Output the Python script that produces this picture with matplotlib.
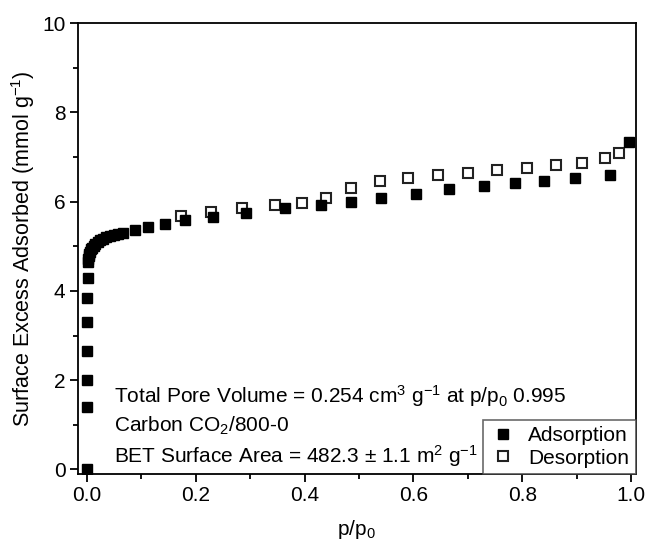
import matplotlib
matplotlib.use('Agg')
import matplotlib.pyplot as plt
from matplotlib.ticker import MultipleLocator

plt.rcParams['font.family'] = ['Liberation Sans', 'DejaVu Sans']
plt.rcParams['mathtext.fontset'] = 'custom'
plt.rcParams['mathtext.rm'] = 'Liberation Sans'
plt.rcParams['mathtext.it'] = 'Liberation Sans:italic'
plt.rcParams['mathtext.bf'] = 'Liberation Sans:bold'

# Isoterma de adsorcion (lectura aproximada de la imagen)
ads_p = [0.0, 0.0005, 0.0008, 0.001, 0.0012, 0.0014, 0.0016,
         0.002, 0.003, 0.004, 0.005, 0.006, 0.008, 0.010, 0.013, 0.016,
         0.020, 0.025, 0.030, 0.036, 0.043, 0.050, 0.058, 0.066,
         0.088, 0.112, 0.143, 0.181, 0.231, 0.293, 0.364, 0.430,
         0.485, 0.540, 0.604, 0.665, 0.729, 0.786, 0.840, 0.897,
         0.960, 0.996]
ads_q = [0.0, 1.4, 2.0, 2.65, 3.3, 3.85, 4.3,
         4.65, 4.72, 4.78, 4.83, 4.88, 4.93, 4.97, 5.01, 5.05,
         5.09, 5.13, 5.17, 5.20, 5.23, 5.26, 5.28, 5.30,
         5.37, 5.43, 5.51, 5.58, 5.65, 5.74, 5.85, 5.92,
         5.99, 6.08, 6.17, 6.28, 6.35, 6.41, 6.46, 6.52,
         6.59, 7.33]

# Isoterma de desorcion
des_p = [0.174, 0.229, 0.286, 0.346, 0.396, 0.440, 0.485, 0.538,
         0.590, 0.645, 0.700, 0.753, 0.808, 0.861, 0.909, 0.952, 0.978]
des_q = [5.67, 5.76, 5.85, 5.92, 5.98, 6.08, 6.30, 6.46,
         6.52, 6.59, 6.64, 6.70, 6.75, 6.81, 6.86, 6.97, 7.08]

fig = plt.figure(figsize=(6.5, 5.51), dpi=100)
ax = fig.add_axes([0.12, 0.14, 0.858, 0.818])

ax.plot(ads_p, ads_q, 's', color='black', markersize=7, label='Adsorption', zorder=3)
ax.plot(des_p, des_q, 's', markerfacecolor='white', markeredgecolor='#222222',
        markeredgewidth=1.5, markersize=6.5, label='Desorption', zorder=2)

ax.set_xlim(-0.016, 1.008)
ax.set_ylim(-0.1, 10)
ax.xaxis.set_major_locator(MultipleLocator(0.2))
ax.xaxis.set_minor_locator(MultipleLocator(0.1))
ax.yaxis.set_major_locator(MultipleLocator(2))
ax.yaxis.set_minor_locator(MultipleLocator(1))
ax.xaxis.set_major_formatter(matplotlib.ticker.FormatStrFormatter('%.1f'))
ax.tick_params(which='major', direction='out', length=6, width=1.3, labelsize=15, pad=3)
ax.tick_params(which='minor', direction='out', length=3.5, width=1.3)
for s in ax.spines.values():
    s.set_linewidth(1.3)

ax.set_xlabel('p/p$_0$', fontsize=15, labelpad=9)
ax.set_ylabel('Surface Excess Adsorbed (mmol g$^{-1}$)', fontsize=15.5, labelpad=4)

ax.text(0.05, 1.64, 'Total Pore Volume = 0.254 cm$^3$ g$^{-1}$ at p/p$_0$ 0.995',
        fontsize=15, va='center')
ax.text(0.05, 0.97, 'Carbon CO$_2$/800-0', fontsize=15, va='center')
ax.text(0.05, 0.31, 'BET Surface Area = 482.3 ± 1.1 m$^2$ g$^{-1}$',
        fontsize=15, va='center')

leg = ax.legend(loc='lower right', borderaxespad=0, fontsize=15, fancybox=False,
                handletextpad=0.5, handlelength=1.4, borderpad=0.3, labelspacing=0.15)
leg.get_frame().set_edgecolor('#444444')
leg.get_frame().set_linewidth(1.2)

fig.savefig('out.png', dpi=100)
